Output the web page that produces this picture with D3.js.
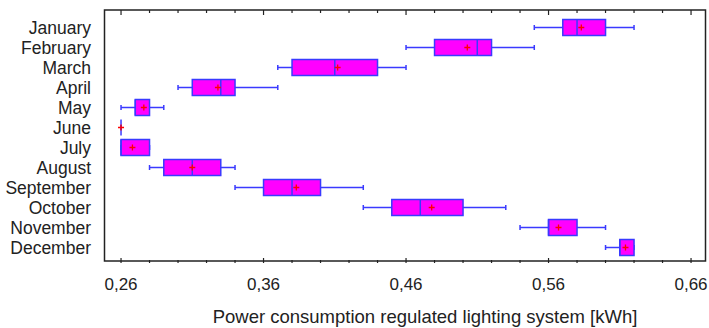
<!DOCTYPE html>
<html>
<head>
<meta charset="utf-8">
<script src="https://cdn.jsdelivr.net/npm/d3@7"></script>
<style>
	body { margin: 0; background: #fff; }
	text { font-family: 'Liberation Sans', Arial, sans-serif; fill: #222; }
</style>
</head>
<body>
<div id="my_dataviz"></div>
<script>
// box plot values, kWh
const months = [ 'January', 'February', 'March', 'April', 'May', 'June', 'July', 'August', 'September', 'October', 'November', 'December' ];
const minValues = [ 0.55, 0.46, 0.37, 0.30, 0.26, 0.26, 0.26, 0.28, 0.34, 0.43, 0.54, 0.60 ];
const q1Values = [ 0.57, 0.48, 0.38, 0.31, 0.27, 0.26, 0.26, 0.29, 0.36, 0.45, 0.56, 0.61 ];
const medianValues = [ 0.58, 0.51, 0.41, 0.33, 0.27, 0.26, 0.26, 0.31, 0.38, 0.47, 0.56, 0.61 ];
const meanValues = [ 0.583, 0.503, 0.412, 0.328, 0.276, 0.26, 0.268, 0.31, 0.383, 0.478, 0.567, 0.614 ];
const q3Values = [ 0.60, 0.52, 0.44, 0.34, 0.28, 0.26, 0.28, 0.33, 0.40, 0.50, 0.58, 0.62 ];
const maxValues = [ 0.62, 0.55, 0.46, 0.37, 0.29, 0.26, 0.28, 0.34, 0.43, 0.53, 0.60, 0.62 ];
const xTicks = [ 0.26, 0.36, 0.46, 0.56, 0.66 ];
const xTitle = 'Power consumption regulated lighting system [kWh]';

let dimensions = {
	width  : 709,
	height : 328,
	margin : {
		top    : 10,
		right  : 3,
		bottom : 65,
		left   : 104.5
	}
};
dimensions.boundedWidth = dimensions.width - dimensions.margin.left - dimensions.margin.right;
dimensions.boundedHeight = dimensions.height - dimensions.margin.top - dimensions.margin.bottom;

const data = months.map(function(m, i) {
	return {
		month  : m,
		min    : minValues[i],
		q1     : q1Values[i],
		median : medianValues[i],
		mean   : meanValues[i],
		q3     : q3Values[i],
		max    : maxValues[i]
	};
});

const svg = d3.select('#my_dataviz').append('svg').attr('width', dimensions.width).attr('height', dimensions.height);

const bounds = svg.append('g').attr('transform', `translate(${dimensions.margin.left}, ${dimensions.margin.top})`);

const x = d3.scaleLinear().domain([ 0.2484, 0.6705 ]).range([ 0, dimensions.boundedWidth ]);
const y = d3.scalePoint().domain(months).range([ 17.5, 237.5 ]);

const commaFormat = d3.formatLocale({ decimal: ',', thousands: '.', grouping: [ 3 ], currency: [ '', '' ] }).format('.2f');

// minor + major ticks, pointing inwards from bottom and top
const allTicks = d3.range(0, 21).map(function(i) {
	return +(0.26 + i * 0.02).toFixed(2);
});
const isMajor = function(v) {
	return xTicks.some(function(t) {
		return Math.abs(t - v) < 1e-6;
	});
};

bounds
	.append('g')
	.selectAll('line')
	.data(allTicks)
	.enter()
	.append('line')
	.attr('x1', function(d) { return x(d); })
	.attr('x2', function(d) { return x(d); })
	.attr('y1', dimensions.boundedHeight)
	.attr('y2', function(d) { return dimensions.boundedHeight - (isMajor(d) ? 5 : 3); })
	.attr('stroke', '#222')
	.attr('stroke-width', 1.2);

bounds
	.append('g')
	.selectAll('line')
	.data(allTicks)
	.enter()
	.append('line')
	.attr('x1', function(d) { return x(d); })
	.attr('x2', function(d) { return x(d); })
	.attr('y1', 0)
	.attr('y2', function(d) { return isMajor(d) ? 5 : 3; })
	.attr('stroke', '#222')
	.attr('stroke-width', 1.2);

bounds
	.append('g')
	.selectAll('text')
	.data(xTicks)
	.enter()
	.append('text')
	.attr('x', function(d) { return x(d); })
	.attr('y', 280)
	.attr('text-anchor', 'middle')
	.attr('font-size', '17px')
	.text(function(d) { return commaFormat(d); });

// month labels
bounds
	.append('g')
	.selectAll('text')
	.data(months)
	.enter()
	.append('text')
	.attr('x', -13.5)
	.attr('y', function(d) { return y(d); })
	.attr('dy', '0.37em')
	.attr('text-anchor', 'end')
	.attr('font-size', '17.5px')
	.text(function(d) { return d; });

svg
	.append('text')
	.attr('x', 425)
	.attr('y', 323)
	.attr('text-anchor', 'middle')
	.attr('font-size', '18.5px')
	.text(xTitle);

// boxes
const boxHeight = 16;
const capHeight = 5;
const blue = '#3a3aff';

const rows = bounds.selectAll('.box').data(data).enter().append('g').attr('class', 'box');

rows
	.append('line')
	.attr('x1', function(d) { return x(d.min); })
	.attr('x2', function(d) { return x(d.max); })
	.attr('y1', function(d) { return y(d.month); })
	.attr('y2', function(d) { return y(d.month); })
	.attr('stroke', blue)
	.attr('stroke-width', 1.5);

[ 'min', 'max' ].forEach(function(k) {
	rows
		.append('line')
		.attr('x1', function(d) { return x(d[k]); })
		.attr('x2', function(d) { return x(d[k]); })
		.attr('y1', function(d) { return y(d.month) - capHeight / 2; })
		.attr('y2', function(d) { return y(d.month) + capHeight / 2; })
		.attr('stroke', blue)
		.attr('stroke-width', 1.5);
});

rows
	.append('rect')
	.attr('x', function(d) { return x(d.q1); })
	.attr('width', function(d) { return x(d.q3) - x(d.q1); })
	.attr('y', function(d) { return y(d.month) - boxHeight / 2; })
	.attr('height', boxHeight)
	.attr('fill', '#ff00ff')
	.attr('stroke', blue)
	.attr('stroke-width', 1.5);

rows
	.append('line')
	.attr('x1', function(d) { return x(d.median); })
	.attr('x2', function(d) { return x(d.median); })
	.attr('y1', function(d) { return y(d.month) - boxHeight / 2; })
	.attr('y2', function(d) { return y(d.month) + boxHeight / 2; })
	.attr('stroke', blue)
	.attr('stroke-width', 1.5);

// mean markers
rows
	.append('path')
	.attr('d', function(d) {
		const cx = x(d.mean);
		const cy = y(d.month);
		return `M${cx - 3},${cy}H${cx + 3}M${cx},${cy - 3}V${cy + 3}`;
	})
	.attr('stroke', '#ff0000')
	.attr('stroke-width', 1.3)
	.attr('fill', 'none');

// frame
bounds
	.append('rect')
	.attr('width', dimensions.boundedWidth - 0.5)
	.attr('height', dimensions.boundedHeight - 2)
	.attr('fill', 'none')
	.attr('stroke', '#222')
	.attr('stroke-width', 1.5);
</script>
</body>
</html>
